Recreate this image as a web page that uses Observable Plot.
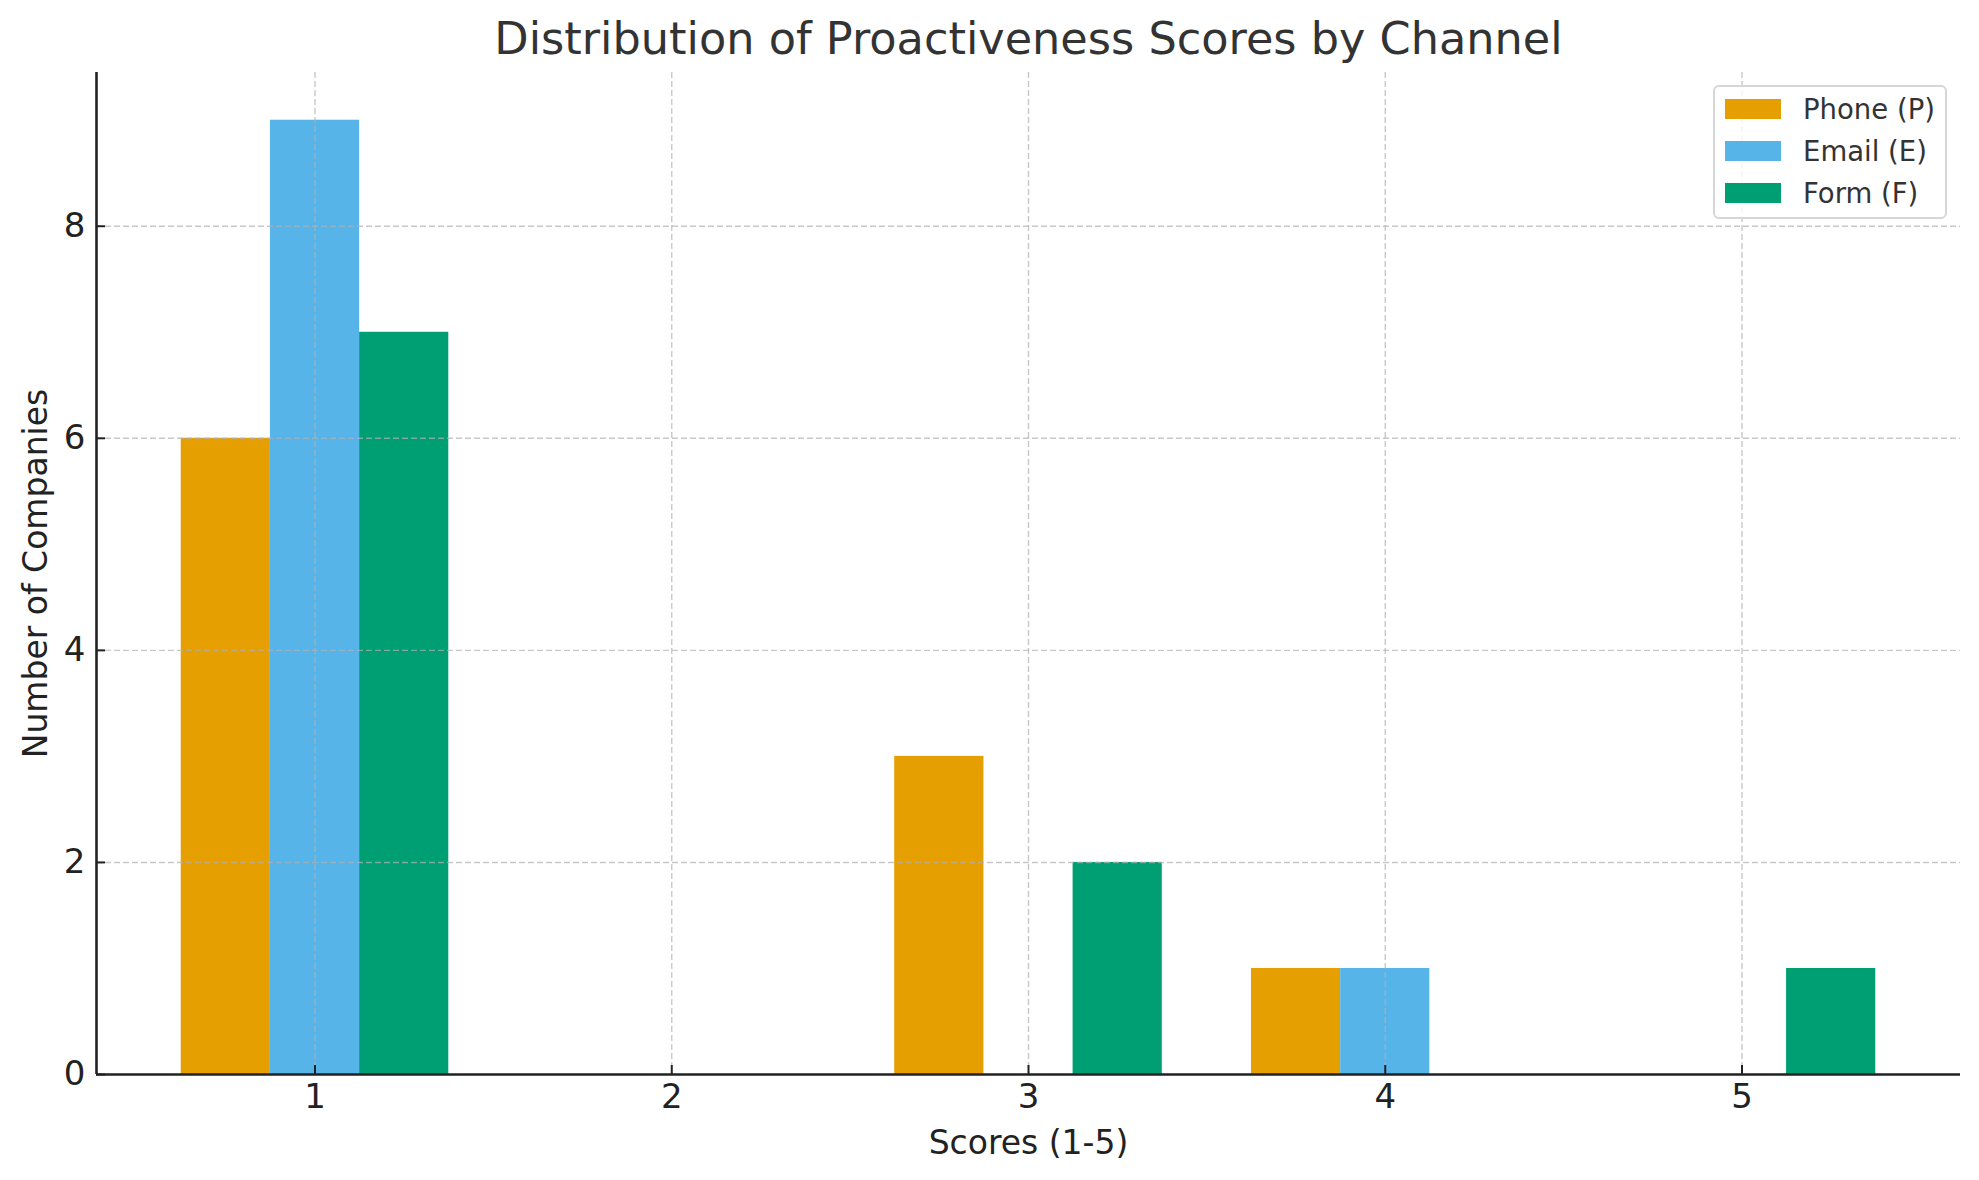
<!DOCTYPE html>
<html>
<head>
<meta charset="utf-8">
<script src="https://cdn.jsdelivr.net/npm/d3@7"></script>
<script src="https://cdn.jsdelivr.net/npm/@observablehq/plot@0.6"></script>
<style>
  html, body { margin: 0; padding: 0; background: #fff; }
  #wrap { position: relative; width: 1979px; height: 1180px; font-family: "DejaVu Sans", sans-serif; }
  #legend { position: absolute; left: 1713px; top: 85px; width: 230px; height: 130px;
    border: 2px solid #d6d6d6; border-radius: 6px; background: rgba(255,255,255,0.8); }
  .row { position: absolute; left: 0; height: 30px; display: flex; align-items: center; }
  .sw { position: absolute; left: 10px; width: 56px; height: 20px; }
  .lab { position: absolute; left: 88px; font-size: 27.5px; color: #333; white-space: nowrap; line-height: 30px; }
</style>
</head>
<body>
<div id="wrap"></div>
<script>
const scores = [1, 2, 3, 4, 5];
const channels = ["Phone (P)", "Email (E)", "Form (F)"];
const phone = [6, 0, 3, 1, 0];
const email = [9, 0, 0, 1, 0];
const form = [7, 0, 2, 0, 1];
const colors = ["#E69F00", "#56B4E9", "#009E73"];
const xTicks = [1, 2, 3, 4, 5];
const yTicks = [0, 2, 4, 6, 8];
const title = "Distribution of Proactiveness Scores by Channel";
const xLabel = "Scores (1-5)";
const yLabel = "Number of Companies";

const series = [phone, email, form];
const barWidth = 0.25;
const table = [];
series.forEach((vals, ci) => {
  vals.forEach((v, si) => {
    if (v > 0) table.push({score: scores[si], channel: channels[ci], count: v, offset: (ci - 1) * barWidth});
  });
});

const xDomain = [0.3875, 5.6125];
const yDomain = [0, 9.45];
const ink = "#222";

const chart = Plot.plot({
  width: 1979, height: 1180,
  marginLeft: 96, marginRight: 19, marginTop: 72, marginBottom: 106,
  x: {domain: xDomain, axis: null},
  y: {domain: yDomain, axis: null},
  color: {domain: channels, range: colors},
  style: {fontFamily: "DejaVu Sans", background: "white", color: ink},
  marks: [
    Plot.rectY(table, {
      x1: d => d.score + d.offset - barWidth / 2,
      x2: d => d.score + d.offset + barWidth / 2,
      y: "count", fill: "channel"
    }),
    Plot.ruleX(xTicks, {x: d => d, stroke: "#b0b0b0", strokeOpacity: 0.7, strokeWidth: 1.4, strokeDasharray: "6,3"}),
    Plot.ruleY(yTicks.filter(d => d > 0), {y: d => d, stroke: "#b0b0b0", strokeOpacity: 0.7, strokeWidth: 1.4, strokeDasharray: "6,3"}),
    Plot.ruleY([yDomain[0]], {stroke: ink, strokeWidth: 2.6}),
    Plot.ruleX([xDomain[0]], {stroke: ink, strokeWidth: 2.6}),
    Plot.ruleX(xTicks, {x: d => d, y1: yDomain[0], y2: yDomain[0], insetTop: -9, stroke: ink, strokeWidth: 2}),
    Plot.ruleY(yTicks, {y: d => d, x1: xDomain[0], x2: xDomain[0], insetRight: -9, stroke: ink, strokeWidth: 2}),
    Plot.axisX({ticks: xTicks, tickSize: 0, tickPadding: 9, fontSize: 34, label: null, tickFormat: d => String(d), color: ink}),
    Plot.axisY({ticks: yTicks, tickSize: 0, tickPadding: 11, fontSize: 34, label: null, tickFormat: d => String(d), color: ink}),
    Plot.text([title], {frameAnchor: "top", lineAnchor: "bottom", dy: -19, fontSize: 44.6, fill: "#333"}),
    Plot.text([xLabel], {frameAnchor: "bottom", lineAnchor: "bottom", dy: 79, fontSize: 33, fill: ink}),
    Plot.text([yLabel], {frameAnchor: "left", textAnchor: "middle", rotate: -90, dx: -60, fontSize: 33, fill: ink})
  ]
});

const wrap = document.getElementById("wrap");
wrap.appendChild(chart);

const legend = document.createElement("div");
legend.id = "legend";
channels.forEach((c, i) => {
  const row = document.createElement("div");
  row.className = "row";
  row.style.top = (7 + i * 42) + "px";
  const sw = document.createElement("div");
  sw.className = "sw";
  sw.style.background = colors[i];
  sw.style.top = "5px";
  const lab = document.createElement("div");
  lab.className = "lab";
  lab.textContent = c;
  row.appendChild(sw);
  row.appendChild(lab);
  legend.appendChild(row);
});
wrap.appendChild(legend);
</script>
</body>
</html>
